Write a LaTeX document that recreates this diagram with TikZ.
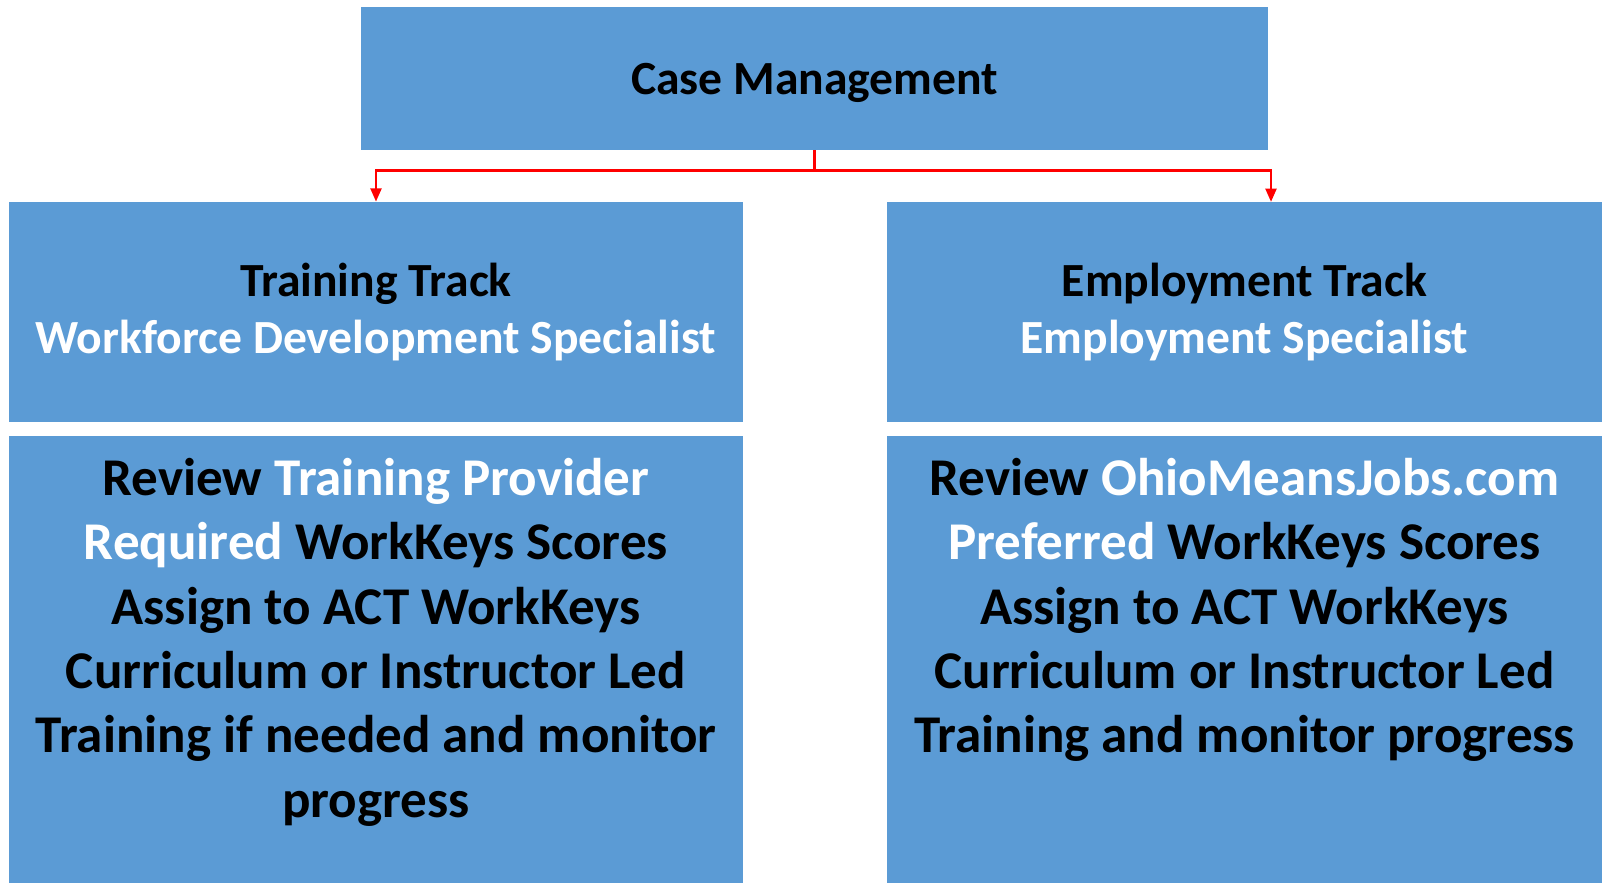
\documentclass[tikz,border=0pt]{standalone}
\usepackage{fontspec}
\setmainfont{Carlito}
\usepackage{tikz}
\usetikzlibrary{calc}
\usetikzlibrary{arrows.meta}
\definecolor{boxblue}{HTML}{5B9BD5}
\tikzstyle{box} = [rectangle, fill=boxblue, inner sep=0pt, 
text centered, align=center, 
font=\fontsize{35.7}{43}\selectfont\bfseries]
\tikzstyle{body} = [inner sep=0pt, anchor=north, align=center, 
font=\fontsize{39.8}{48.3}\selectfont\bfseries]
\tikzstyle{arrow} = [red, line width=2.2pt, -{Triangle[length=10pt, width=8pt]}]

\begin{document}
\begin{tikzpicture}[x=0.75pt, y=-0.75pt]
    \useasboundingbox (0,0) rectangle (1602,883);

    % the boxes
    \node (CM) [box, text depth=0pt, minimum width=680.25pt, minimum height=107.25pt] at (814.5,78.5) {Case Management};

    \node (TT) [box, minimum width=550.5pt, minimum height=165pt] at (376,312) {Training Track\\\textcolor{white}{Workforce Development Specialist}};
    \node (ET) [box, minimum width=536.25pt, minimum height=165pt] at (1244.5,312) {Employment Track\\\textcolor{white}{Employment Specialist}};

    \node (TTtasks) [box, minimum width=550.5pt, minimum height=335.25pt] at (376,659.5) {};
    \node (ETtasks) [box, minimum width=536.25pt, minimum height=335.25pt] at (1244.5,659.5) {};

    % the task lists
    \node (TTtext) [body] at ($(TTtasks.north) + (0,22)$) {Review \textcolor{white}{Training Provider}\\
        \textcolor{white}{Required} WorkKeys Scores\\
        Assign to ACT WorkKeys\\
        Curriculum or Instructor Led\\
        Training if needed and monitor\\
        progress};
    \node (ETtext) [body] at ($(ETtasks.north) + (0,22)$) {Review \textcolor{white}{OhioMeansJobs.com}\\
        \textcolor{white}{Preferred} WorkKeys Scores\\
        Assign to ACT WorkKeys\\
        Curriculum or Instructor Led\\
        Training and monitor progress};

    % the connectors
    \coordinate (ETin) at (1271,202);
    \draw [arrow] (CM.south) -- ++(0,20) -| (TT.north);
    \draw [arrow] (CM.south) -- ++(0,20) -| (ETin);

\end{tikzpicture}
\end{document}
